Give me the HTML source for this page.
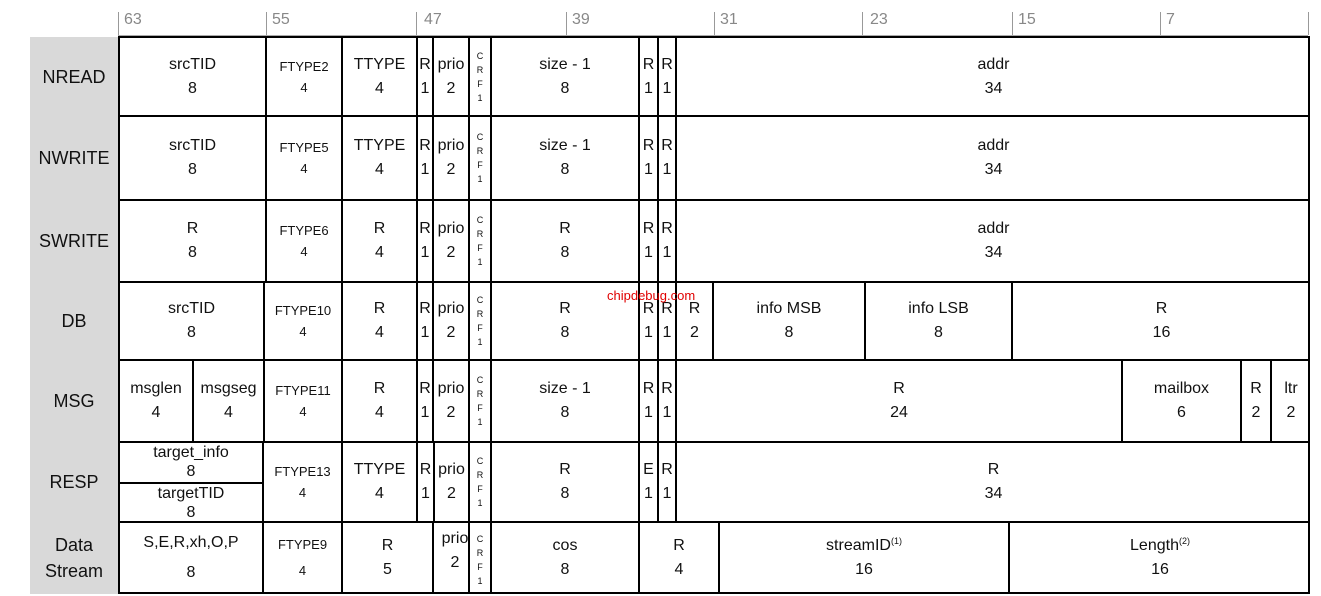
<!DOCTYPE html>
<html><head><meta charset="utf-8"><style>
body{margin:0;width:1321px;height:596px;background:#fff;position:relative;overflow:hidden;font-family:"Liberation Sans",sans-serif;}
.g{position:absolute;left:30px;top:37px;width:88px;height:557px;background:#d9d9d9;}
.lb{position:absolute;left:30px;width:88px;text-align:center;font-size:18px;color:#111;display:flex;align-items:center;justify-content:center;line-height:26px;}
.c{position:absolute;box-sizing:border-box;border-left:2px solid #000;display:flex;align-items:center;justify-content:center;text-align:center;font-size:16px;line-height:24px;color:#111;}
.s{font-size:13px;line-height:21px;}
.crf{font-size:9px;line-height:14px;}
.h{position:absolute;left:118px;width:1192px;height:2px;background:#000;}
.v{position:absolute;right:11px;width:2px;background:#000;top:37px;height:557px;}
.t{position:absolute;top:12px;width:1px;height:23px;background:#999;}
.tn{position:absolute;top:11px;font-size:16px;color:#888;}
sup{font-size:9px;line-height:0;vertical-align:6px;}
</style></head><body>
<div class="g"></div>
<div style="position:absolute;left:118px;top:35px;width:1190px;height:1px;background:#aaa"></div>
<div class="t" style="left:118px"></div><div class="tn" style="left:124px">63</div>
<div class="t" style="left:266px"></div><div class="tn" style="left:272px">55</div>
<div class="t" style="left:416px"></div><div class="tn" style="left:424px">47</div>
<div class="t" style="left:566px"></div><div class="tn" style="left:572px">39</div>
<div class="t" style="left:714px"></div><div class="tn" style="left:720px">31</div>
<div class="t" style="left:862px"></div><div class="tn" style="left:870px">23</div>
<div class="t" style="left:1012px"></div><div class="tn" style="left:1018px">15</div>
<div class="t" style="left:1160px"></div><div class="tn" style="left:1166px">7</div>
<div class="t" style="left:1308px"></div>

<div class="lb" style="top:37px;height:79px">NREAD</div>
<div class="lb" style="top:116px;height:84px">NWRITE</div>
<div class="lb" style="top:200px;height:82px">SWRITE</div>
<div class="lb" style="top:282px;height:78px">DB</div>
<div class="lb" style="top:360px;height:82px">MSG</div>
<div class="lb" style="top:442px;height:80px">RESP</div>
<div class="lb" style="top:522px;height:72px">Data<br>Stream</div>

<!-- NREAD -->
<div class="c" style="top:37px;height:79px;left:118px;width:147px">srcTID<br>8</div>
<div class="c s" style="top:37px;height:79px;left:265px;width:76px">FTYPE2<br>4</div>
<div class="c" style="top:37px;height:79px;left:341px;width:75px">TTYPE<br>4</div>
<div class="c" style="top:37px;height:79px;left:416px;width:16px">R<br>1</div>
<div class="c" style="top:37px;height:79px;left:432px;width:36px">prio<br>2</div>
<div class="c crf" style="top:37px;height:79px;left:468px;width:22px">C<br>R<br>F<br>1</div>
<div class="c" style="top:37px;height:79px;left:490px;width:148px">size - 1<br>8</div>
<div class="c" style="top:37px;height:79px;left:638px;width:19px">R<br>1</div>
<div class="c" style="top:37px;height:79px;left:657px;width:18px">R<br>1</div>
<div class="c" style="top:37px;height:79px;left:675px;width:635px">addr<br>34</div>
<!-- NWRITE -->
<div class="c" style="top:116px;height:84px;left:118px;width:147px">srcTID<br>8</div>
<div class="c s" style="top:116px;height:84px;left:265px;width:76px">FTYPE5<br>4</div>
<div class="c" style="top:116px;height:84px;left:341px;width:75px">TTYPE<br>4</div>
<div class="c" style="top:116px;height:84px;left:416px;width:16px">R<br>1</div>
<div class="c" style="top:116px;height:84px;left:432px;width:36px">prio<br>2</div>
<div class="c crf" style="top:116px;height:84px;left:468px;width:22px">C<br>R<br>F<br>1</div>
<div class="c" style="top:116px;height:84px;left:490px;width:148px">size - 1<br>8</div>
<div class="c" style="top:116px;height:84px;left:638px;width:19px">R<br>1</div>
<div class="c" style="top:116px;height:84px;left:657px;width:18px">R<br>1</div>
<div class="c" style="top:116px;height:84px;left:675px;width:635px">addr<br>34</div>
<!-- SWRITE -->
<div class="c" style="top:200px;height:82px;left:118px;width:147px">R<br>8</div>
<div class="c s" style="top:200px;height:82px;left:265px;width:76px">FTYPE6<br>4</div>
<div class="c" style="top:200px;height:82px;left:341px;width:75px">R<br>4</div>
<div class="c" style="top:200px;height:82px;left:416px;width:16px">R<br>1</div>
<div class="c" style="top:200px;height:82px;left:432px;width:36px">prio<br>2</div>
<div class="c crf" style="top:200px;height:82px;left:468px;width:22px">C<br>R<br>F<br>1</div>
<div class="c" style="top:200px;height:82px;left:490px;width:148px">R<br>8</div>
<div class="c" style="top:200px;height:82px;left:638px;width:19px">R<br>1</div>
<div class="c" style="top:200px;height:82px;left:657px;width:18px">R<br>1</div>
<div class="c" style="top:200px;height:82px;left:675px;width:635px">addr<br>34</div>
<!-- DB -->
<div class="c" style="top:282px;height:78px;left:118px;width:145px">srcTID<br>8</div>
<div class="c s" style="top:282px;height:78px;left:263px;width:78px">FTYPE10<br>4</div>
<div class="c" style="top:282px;height:78px;left:341px;width:75px">R<br>4</div>
<div class="c" style="top:282px;height:78px;left:416px;width:16px">R<br>1</div>
<div class="c" style="top:282px;height:78px;left:432px;width:36px">prio<br>2</div>
<div class="c crf" style="top:282px;height:78px;left:468px;width:22px">C<br>R<br>F<br>1</div>
<div class="c" style="top:282px;height:78px;left:490px;width:148px">R<br>8</div>
<div class="c" style="top:282px;height:78px;left:638px;width:19px">R<br>1</div>
<div class="c" style="top:282px;height:78px;left:657px;width:18px">R<br>1</div>
<div class="c" style="top:282px;height:78px;left:675px;width:37px">R<br>2</div>
<div class="c" style="top:282px;height:78px;left:712px;width:152px">info MSB<br>8</div>
<div class="c" style="top:282px;height:78px;left:864px;width:147px">info LSB<br>8</div>
<div class="c" style="top:282px;height:78px;left:1011px;width:299px">R<br>16</div>
<!-- MSG -->
<div class="c" style="top:360px;height:82px;left:118px;width:74px">msglen<br>4</div>
<div class="c" style="top:360px;height:82px;left:192px;width:71px">msgseg<br>4</div>
<div class="c s" style="top:360px;height:82px;left:263px;width:78px">FTYPE11<br>4</div>
<div class="c" style="top:360px;height:82px;left:341px;width:75px">R<br>4</div>
<div class="c" style="top:360px;height:82px;left:416px;width:16px">R<br>1</div>
<div class="c" style="top:360px;height:82px;left:432px;width:36px">prio<br>2</div>
<div class="c crf" style="top:360px;height:82px;left:468px;width:22px">C<br>R<br>F<br>1</div>
<div class="c" style="top:360px;height:82px;left:490px;width:148px">size - 1<br>8</div>
<div class="c" style="top:360px;height:82px;left:638px;width:19px">R<br>1</div>
<div class="c" style="top:360px;height:82px;left:657px;width:18px">R<br>1</div>
<div class="c" style="top:360px;height:82px;left:675px;width:446px">R<br>24</div>
<div class="c" style="top:360px;height:82px;left:1121px;width:119px">mailbox<br>6</div>
<div class="c" style="top:360px;height:82px;left:1240px;width:30px">R<br>2</div>
<div class="c" style="top:360px;height:82px;left:1270px;width:40px">ltr<br>2</div>
<!-- RESP -->
<div class="c" style="top:442px;height:40px;left:118px;width:144px;line-height:19px">target_info<br>8</div>
<div class="c" style="top:482px;height:40px;left:118px;width:144px;line-height:19px;border-top:2px solid #000">targetTID<br>8</div>
<div class="c s" style="top:442px;height:80px;left:262px;width:79px">FTYPE13<br>4</div>
<div class="c" style="top:442px;height:80px;left:341px;width:75px">TTYPE<br>4</div>
<div class="c" style="top:442px;height:80px;left:416px;width:17px">R<br>1</div>
<div class="c" style="top:442px;height:80px;left:433px;width:35px">prio<br>2</div>
<div class="c crf" style="top:442px;height:80px;left:468px;width:22px">C<br>R<br>F<br>1</div>
<div class="c" style="top:442px;height:80px;left:490px;width:148px">R<br>8</div>
<div class="c" style="top:442px;height:80px;left:638px;width:19px">E<br>1</div>
<div class="c" style="top:442px;height:80px;left:657px;width:18px">R<br>1</div>
<div class="c" style="top:442px;height:80px;left:675px;width:635px">R<br>34</div>
<!-- Data Stream -->
<div class="c" style="top:522px;height:72px;left:118px;width:144px;line-height:30px">S,E,R,xh,O,P<br>8</div>
<div class="c s" style="top:522px;height:72px;left:262px;width:79px;line-height:26px">FTYPE9<br>4</div>
<div class="c" style="top:522px;height:72px;left:341px;width:91px">R<br>5</div>
<div class="c" style="top:522px;height:72px;left:432px;width:36px;align-items:flex-start;padding-top:5px;padding-left:8px">prio<br>2</div>
<div class="c crf" style="top:522px;height:72px;left:468px;width:22px;line-height:14px;padding-top:4px">C<br>R<br>F<br>1</div>
<div class="c" style="top:522px;height:72px;left:490px;width:148px">cos<br>8</div>
<div class="c" style="top:522px;height:72px;left:638px;width:80px">R<br>4</div>
<div class="c" style="top:522px;height:72px;left:718px;width:290px"><div>streamID<sup>(1)</sup><br>16</div></div>
<div class="c" style="top:522px;height:72px;left:1008px;width:302px"><div>Length<sup>(2)</sup><br>16</div></div>

<div class="h" style="top:36px"></div>
<div class="h" style="top:115px"></div>
<div class="h" style="top:199px"></div>
<div class="h" style="top:281px"></div>
<div class="h" style="top:359px"></div>
<div class="h" style="top:441px"></div>
<div class="h" style="top:521px"></div>
<div class="h" style="top:592px"></div>
<div class="v"></div>
<div style="position:absolute;left:607px;top:288px;font-size:13px;color:#e00000">chipdebug.com</div>
</body></html>
